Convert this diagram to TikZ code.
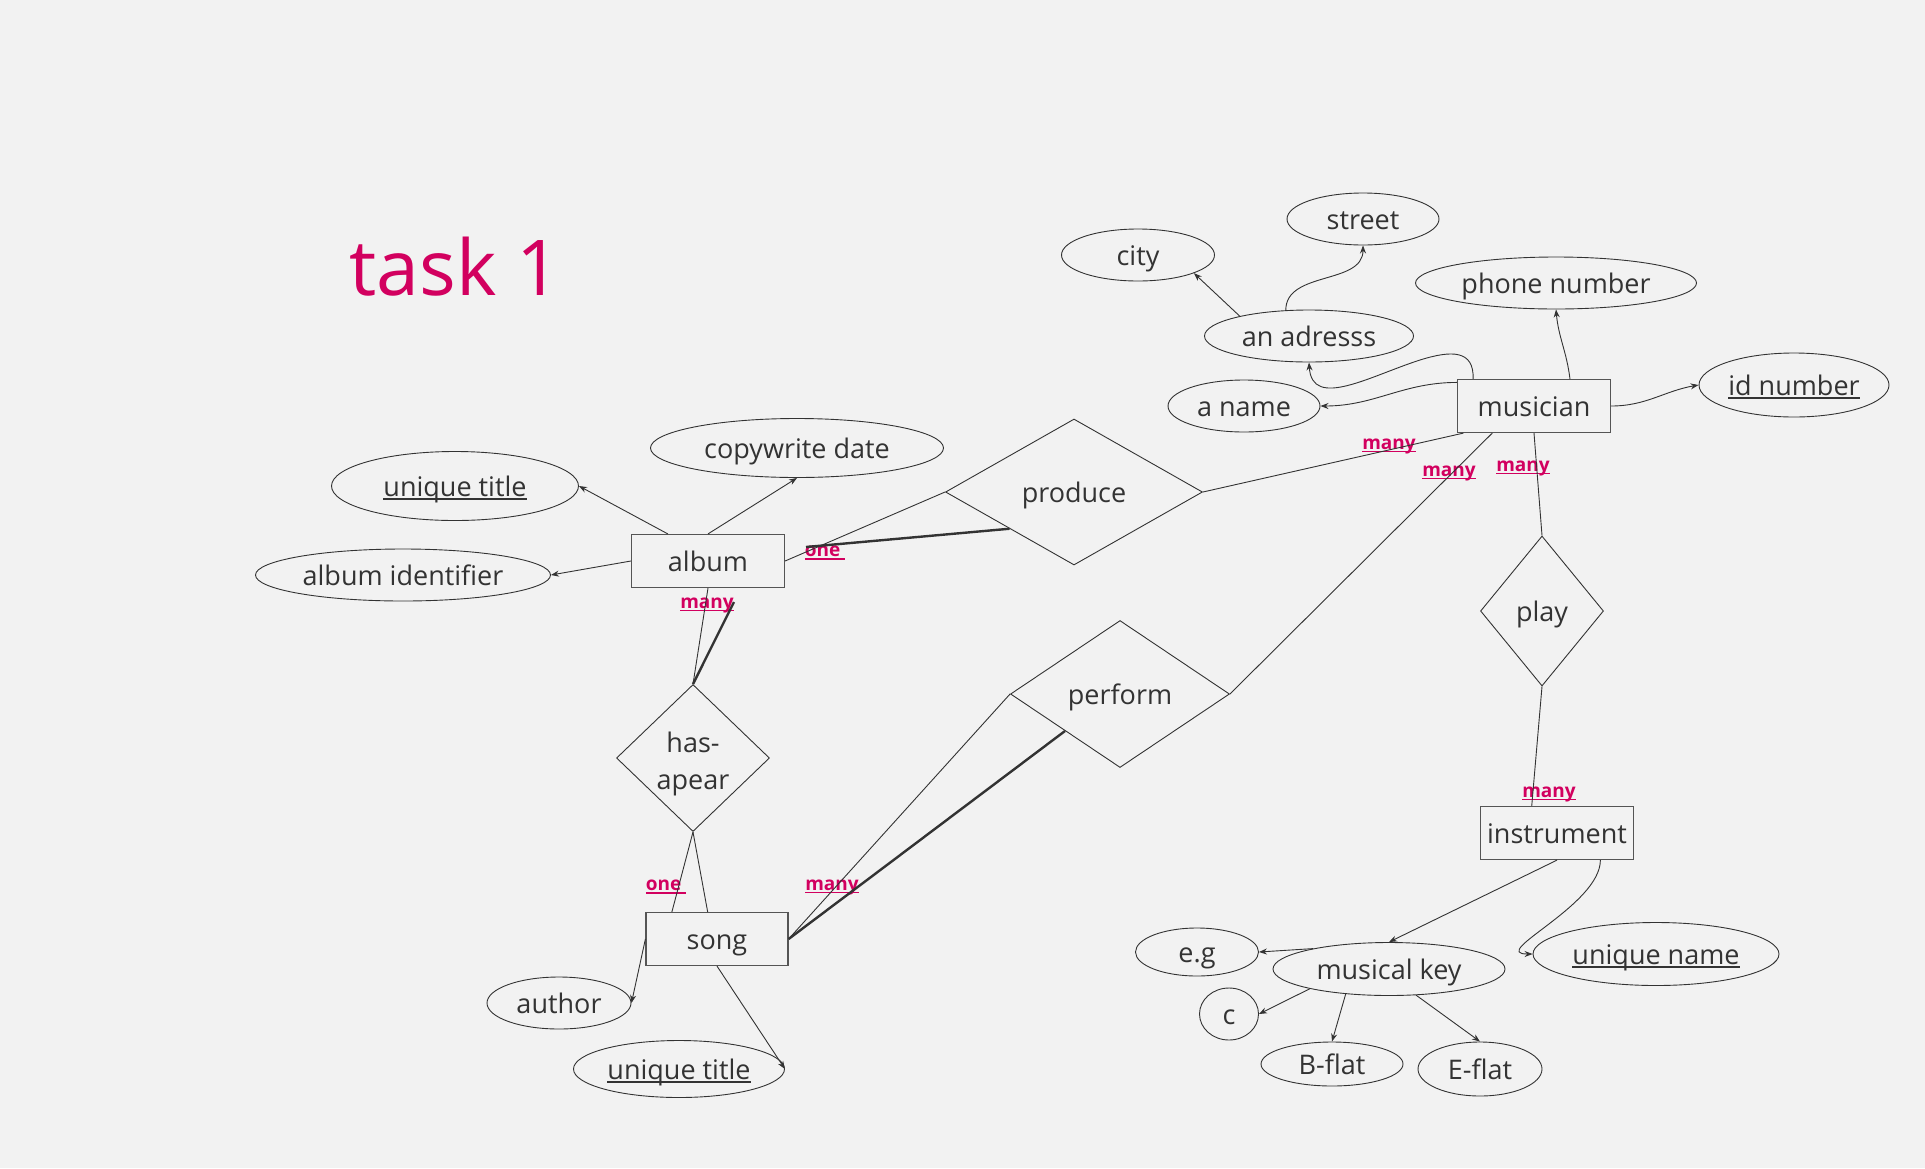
\documentclass[tikz,border=0pt]{standalone}
\usepackage{fontspec}
\setmainfont{Open Sans}
\usetikzlibrary{arrows.meta,shapes.geometric}
\definecolor{bgcol}{HTML}{F2F2F2}
\definecolor{ink}{HTML}{333333}
\definecolor{boxgray}{HTML}{555555}
\definecolor{pink}{HTML}{D2005F}

% underline that sits close to the baseline
\newcommand{\keyline}[1]{\setbox0\hbox{#1}\rlap{\rule[-0.16em]{\wd0}{0.08em}}\box0}

\begin{document}
\begin{tikzpicture}[
    x=1pt, y=1pt,
    >={Stealth[length=8pt,width=6pt]},
    entity/.style={draw=boxgray, line width=1.2pt, fill=none,
                   minimum width=153, minimum height=53, inner sep=0pt,
                   text height=20, text depth=0,
                   text=ink, font=\fontsize{27}{36}\selectfont},
    attr/.style={ellipse, draw=ink, line width=0.9pt, inner sep=0pt,
                 minimum height=52, text height=20, text depth=0,
                 text=ink, font=\fontsize{27}{36}\selectfont},
    rel/.style={diamond, draw=ink, line width=0.9pt, inner sep=0pt,
                text height=20, text depth=0,
                text=ink, font=\fontsize{27}{37}\selectfont},
    link/.style={draw=ink, line width=0.9pt},
    heavy/.style={draw=ink, line width=2.4pt},
    card/.style={inner sep=0pt, text=pink,
                 font=\bfseries\fontsize{19}{23}\selectfont}
  ]

  % ── page ────────────────────────────────────────────────────────
  \fill[bgcol] (0,0) rectangle (1925,-1168);
  \useasboundingbox (0,0) rectangle (1925,-1168);

  \node[text=pink, font=\fontsize{77}{92}\selectfont, inner sep=0pt]
    (task) at (455,-267) {task 1};

  % ── entities ────────────────────────────────────────────────────
  \node[entity] (musician)   at (1534,-406) {musician};
  \node[entity] (album)      at (708,-561)  {album};
  \node[entity, minimum width=142] (song) at (717,-939) {song};
  \node[entity] (instrument) at (1557,-833) {instrument};

  % ── relationships ───────────────────────────────────────────────
  \node[rel, minimum width=257, minimum height=146] (produce)  at (1074,-492) {produce};
  \node[rel, minimum width=219, minimum height=147] (perform)  at (1120,-694) {perform};
  \node[rel, minimum width=123, minimum height=150] (play)     at (1542,-611) {play};
  \node[rel, minimum width=153, minimum height=147] (hasapear) at (693,-758)
    {\raisebox{-2pt}[20pt][0pt]{\begin{tabular}{@{}c@{}}has-\\apear\end{tabular}}};

  % ── attributes ──────────────────────────────────────────────────
  \node[attr, minimum width=153] (city)    at (1138,-255) {city};
  \node[attr, minimum width=152] (street)  at (1363,-219) {street};
  \node[attr, minimum width=209] (address) at (1309,-336) {an adresss};
  \node[attr, minimum width=281] (phone)   at (1556,-283) {phone number};
  \node[attr, minimum width=152] (aname)   at (1244,-406) {a name};
  \node[attr, minimum width=190, minimum height=64] (idnum) at (1794,-385) {\keyline{id number}};

  \node[attr, minimum width=293, minimum height=59] (copydate) at (797,-448) {copywrite date};
  \node[attr, minimum width=247, minimum height=69] (albtitle) at (455,-486) {\keyline{unique title}};
  \node[attr, minimum width=295, minimum height=52] (albid)    at (403,-575) {album identifier};

  \node[attr, minimum width=144] (author) at (559,-1003) {author};
  \node[attr, minimum width=211, minimum height=57] (songtitle) at (679,-1069) {\keyline{unique title}};

  \node[attr, minimum width=232, minimum height=53] (mkey)  at (1389,-969)  {musical key};
  \node[attr, minimum width=246, minimum height=63] (uname) at (1656,-954)  {\keyline{unique name}};
  \node[attr, minimum width=123, minimum height=48] (eg)    at (1197,-952)  {e.g};
  \node[attr, minimum width=59]                     (keyc)  at (1229,-1014) {c};
  \node[attr, minimum width=142, minimum height=44] (bflat) at (1332,-1064) {B-flat};
  \node[attr, minimum width=124, minimum height=54] (eflat) at (1480,-1069) {E-flat};

  % ── cardinalities ───────────────────────────────────────────────
  \node[card] (oneA)  at (825,-553)  {\keyline{one\ }};
  \node[card] (manyA) at (707,-605)  {\keyline{many}};
  \node[card] (oneS)  at (666,-887)  {\keyline{one\ }};
  \node[card] (manyS) at (832,-887)  {\keyline{many}};
  \node[card] (manyP) at (1389,-446) {\keyline{many}};
  \node[card] (manyF) at (1449,-473) {\keyline{many}};
  \node[card] (manyM) at (1523,-468) {\keyline{many}};
  \node[card] (manyI) at (1549,-794) {\keyline{many}};

  \coordinate (oneEnd)  at (806,-547);
  \coordinate (manyEnd) at (734,-602);

  % ── musician attributes ─────────────────────────────────────────
  \draw[link,->] (musician.37) to[out=97,in=-85] (phone.south);
  \draw[link,->] (musician.east) to[out=0,in=190] (idnum.west);
  \draw[link,->] (musician.163) to[out=180,in=0] (aname.east);
  \draw[link,->] (musician.156) .. controls (1474,-350) and (1452,-350) .. (1420,-360)
                                .. controls (1370,-376) and (1312,-410) .. (address.south);
  \draw[link,->] (address.164) -- (city.-18);
  \draw[link,->] (address.132) to[out=90,in=-90] (street.south);

  % ── album attributes ────────────────────────────────────────────
  \draw[link,->] (album.146)   -- (albtitle.east);
  \draw[link,->] (album.north) -- (copydate.south);
  \draw[link,->] (album.west)  -- (albid.east);

  % ── song attributes ─────────────────────────────────────────────
  \draw[link,->] (song.west)  -- (author.east);
  \draw[link,->] (song.south) -- (songtitle.east);

  % ── instrument attributes ───────────────────────────────────────
  \draw[link,->] (instrument.south) -- (mkey.north);
  \draw[link,->] (instrument.-32) to[out=-90,in=180] (uname.west);
  \draw[link,->] (mkey.165) -- (eg.east);
  \draw[link,->] (mkey.194) -- (keyc.east);
  \draw[link,->] (mkey.210) -- (bflat.north);
  \draw[link,->] (mkey.-44) -- (eflat.north);

  % ── relationship lines ──────────────────────────────────────────
  \draw[link]  (album.east) -- (produce.west);
  \draw[heavy] (oneEnd) -- (produce.south west);
  \draw[link]  (produce.east) -- (musician.201);

  \draw[link]  (album.south) -- (hasapear.north);
  \draw[heavy] (manyEnd) -- (hasapear.north);
  \draw[link]  (hasapear.south) -- (song.149);
  \draw[link]  (hasapear.south) -- (song.109);

  \draw[link]  (song.east) -- (perform.west);
  \draw[heavy] (song.east) -- (perform.south west);
  \draw[link]  (perform.east) -- (musician.213);

  \draw[link]  (musician.south) -- (play.north);
  \draw[link]  (play.south) -- (instrument.133);

\end{tikzpicture}
\end{document}
